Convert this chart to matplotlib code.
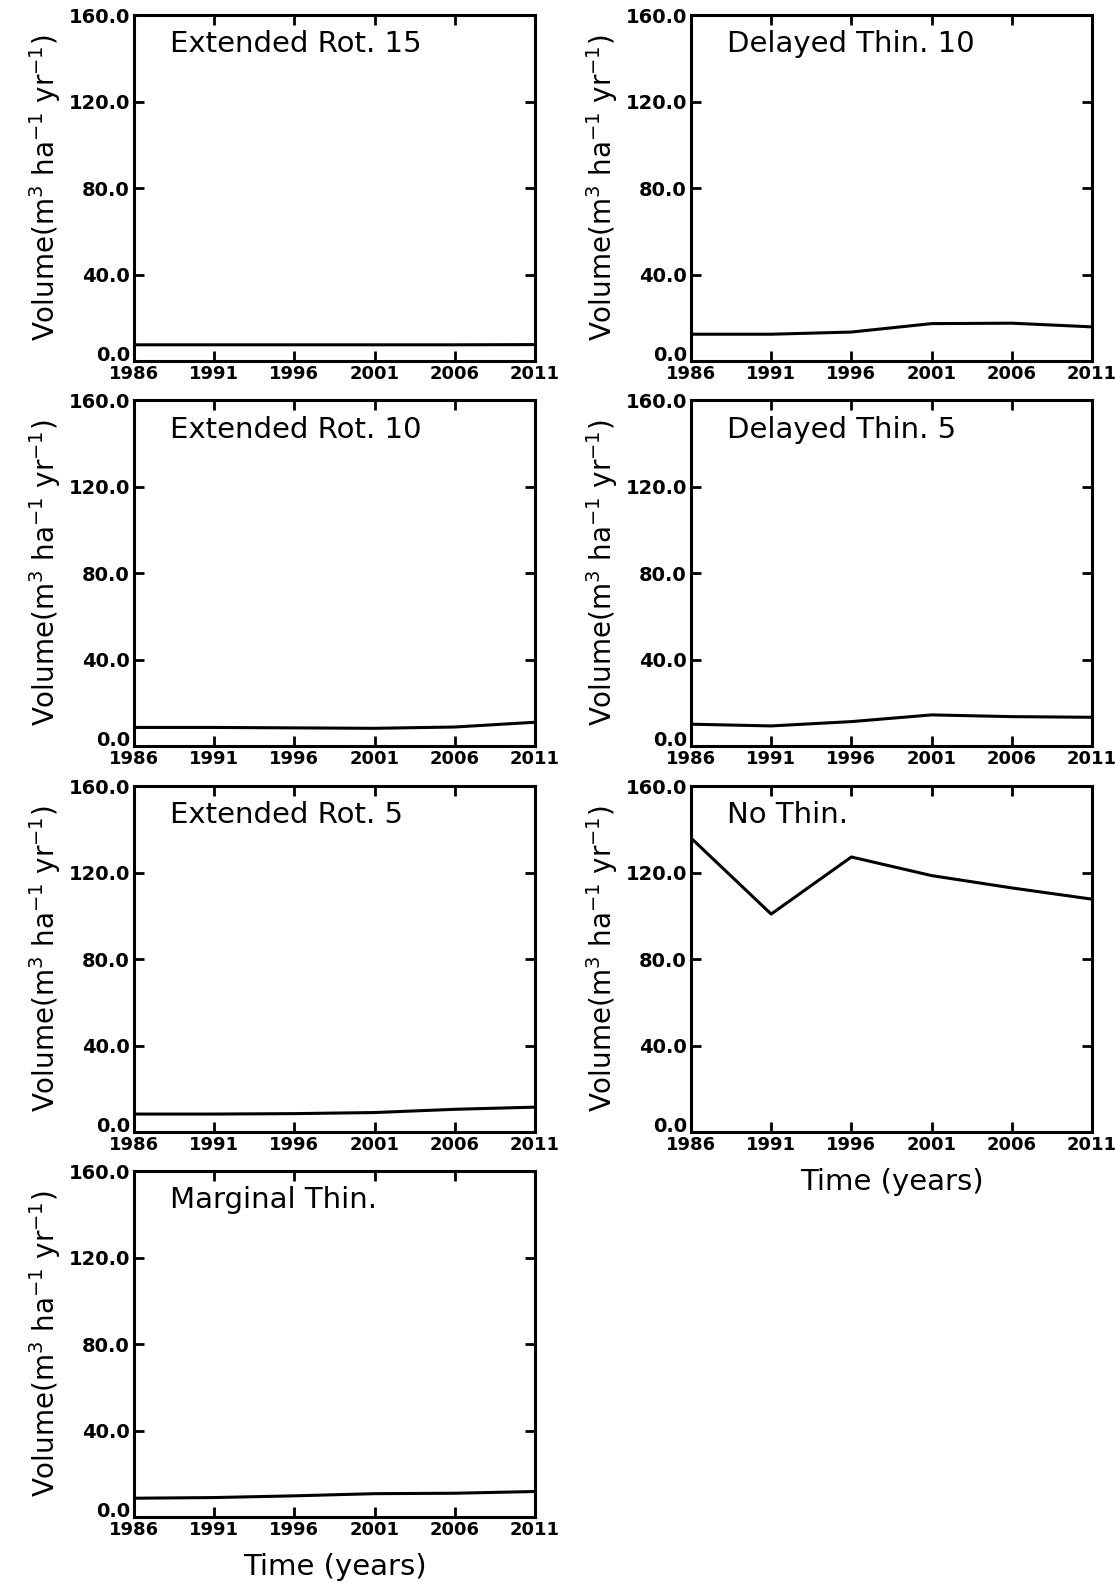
import matplotlib
matplotlib.use("Agg")
import matplotlib.pyplot as plt

years = [1986, 1991, 1996, 2001, 2006, 2011]

ext_rot_15 = [7.5, 7.5, 7.5, 7.5, 7.5, 7.6]
ext_rot_10 = [8.6, 8.6, 8.4, 8.2, 8.8, 11.0]
ext_rot_5 = [8.3, 8.3, 8.5, 9.0, 10.5, 11.5]
marginal_thin = [8.7, 9.0, 9.8, 10.8, 11.0, 11.8]
delayed_thin_10 = [12.4, 12.4, 13.4, 17.3, 17.5, 15.8]
delayed_thin_5 = [10.1, 9.3, 11.3, 14.4, 13.6, 13.3]
no_thin = [136.0, 100.8, 127.2, 118.6, 112.9, 107.7]

titles = ["Extended Rot. 15", "Delayed Thin. 10",
          "Extended Rot. 10", "Delayed Thin. 5",
          "Extended Rot. 5", "No Thin.",
          "Marginal Thin."]
series = [ext_rot_15, delayed_thin_10,
          ext_rot_10, delayed_thin_5,
          ext_rot_5, no_thin,
          marginal_thin]

yticks = [0, 40, 80, 120, 160]
ylabel = r"Volume(m$^3$ ha$^{-1}$ yr$^{-1}$)"

fig = plt.figure(figsize=(11.15, 15.89), dpi=100)

lefts = [0.1202, 0.6197]
bottoms = [0.7728, 0.5305, 0.2876, 0.0453]
w, h = 0.3596, 0.2177

for i, (title, vals) in enumerate(zip(titles, series)):
    row, col = i // 2, i % 2
    ax = fig.add_axes([lefts[col], bottoms[row], w, h])
    ax.plot(years, vals, color="black", lw=2.2)
    ax.set_xlim(1986, 2011)
    ax.set_ylim(0, 160)
    ax.set_xticks(years)
    ax.set_yticks(yticks)
    ax.set_yticklabels(["%.1f" % v for v in yticks], fontweight="bold")
    ax.set_xticklabels([str(y) for y in years], fontweight="bold")
    ax.tick_params(direction="in", top=True, right=True, length=7, width=2,
                   pad=3)
    ax.tick_params(axis="y", labelsize=14)
    ax.tick_params(axis="x", labelsize=13)
    ax.get_yticklabels()[0].set_va("baseline")
    for s in ax.spines.values():
        s.set_linewidth(2.2)
    ax.set_ylabel(ylabel, fontsize=20, labelpad=4)
    ax.text(0.09, 0.915, title, transform=ax.transAxes, fontsize=21,
            va="center", ha="left")
    if i >= 5:
        ax.set_xlabel("Time (years)", fontsize=21, labelpad=10)

fig.savefig("out.png", dpi=100)
